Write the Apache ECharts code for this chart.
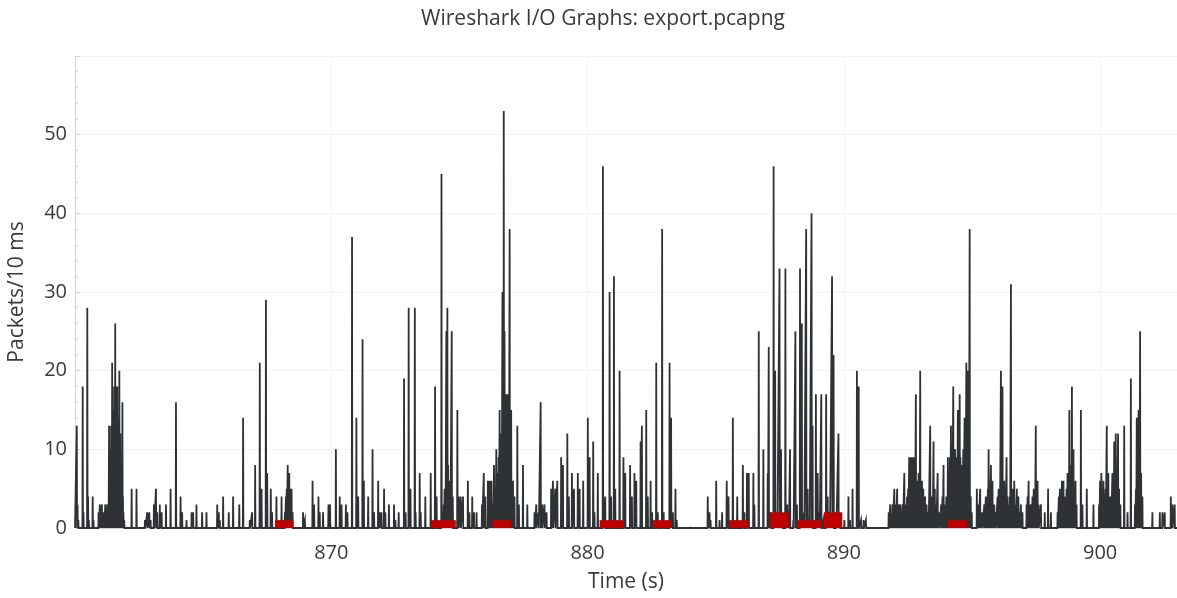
<!DOCTYPE html>
<html>
<head>
<meta charset="utf-8">
<title>Wireshark I/O Graphs: export.pcapng</title>
<script src="https://cdn.jsdelivr.net/npm/echarts@6/dist/echarts.min.js"></script>
<style>
  html, body { margin: 0; padding: 0; background: #ffffff; }
  #chart { width: 1177px; height: 598px; }
</style>
</head>
<body>
<div id="chart"></div>
<script>
// Packets per 10 ms interval: [time (s), packet count]; bins not listed are empty.
const ioSamples = [
  [860.07,13],[860.10,3],[860.13,1],[860.30,18],[860.33,2],[860.48,28],[860.51,4],[860.54,1],[860.69,4],[860.72,1],
  [860.92,2],[860.97,3],[861.00,2],[861.05,3],[861.10,2],[861.14,1],[861.18,3],[861.22,2],[861.26,3],[861.30,2],
  [861.33,13],[861.35,4],[861.37,10],[861.39,6],[861.41,13],[861.43,8],[861.45,21],[861.47,10],[861.49,15],[861.51,9],
  [861.53,18],[861.55,12],[861.57,26],[861.59,10],[861.61,18],[861.63,8],[861.65,18],[861.67,10],[861.69,14],[861.71,6],
  [861.73,20],[861.75,10],[861.77,12],[861.79,6],[861.81,8],[861.83,3],[861.85,16],[861.87,4],[861.89,2],[861.92,1],
  [862.21,5],[862.40,5],[862.73,1],[862.82,2],[862.90,2],[862.95,1],[863.08,3],[863.16,5],[863.21,2],[863.31,3],
  [863.38,2],[863.55,3],[863.73,5],[863.94,16],[864.12,4],[864.18,2],[864.35,1],[864.55,2],[864.61,2],[864.74,3],
  [864.96,2],[865.13,2],[865.55,3],[865.61,2],[865.65,1],[865.78,4],[866.00,2],[866.17,4],[866.41,3],[866.56,14],
  [866.82,1],[866.91,2],[867.03,8],[867.21,21],[867.28,5],[867.45,29],[867.50,7],[867.64,5],[867.69,2],[867.86,4],
  [868.06,4],[868.19,2],[868.23,4],[868.26,5],[868.30,8],[868.33,7],[868.36,7],[868.39,5],[868.42,3],[868.45,5],
  [868.49,2],[868.90,2],[868.97,1],[869.27,6],[869.33,3],[869.50,4],[869.55,2],[869.68,2],[869.89,3],[869.95,3],
  [870.18,10],[870.33,4],[870.40,3],[870.57,3],[870.63,2],[870.81,37],[870.98,14],[871.05,4],[871.22,24],[871.27,6],
  [871.44,4],[871.61,10],[871.67,2],[871.83,6],[871.89,2],[871.96,2],[872.06,5],[872.11,2],[872.25,3],[872.45,3],
  [872.50,1],[872.63,2],[872.84,19],[872.90,2],[873.02,28],[873.09,5],[873.26,28],[873.29,2],[873.45,7],[873.49,2],
  [873.67,4],[873.88,7],[874.05,18],[874.11,4],[874.30,45],[874.36,2],[874.39,3],[874.42,5],[874.45,4],[874.49,25],
  [874.53,28],[874.56,8],[874.60,6],[874.64,4],[874.70,25],[874.74,4],[874.92,15],[874.97,4],[875.05,4],[875.14,4],
  [875.33,6],[875.39,2],[875.50,4],[875.57,2],[875.67,2],[875.88,3],[875.95,7],[876.01,4],[876.11,6],[876.18,6],
  [876.25,6],[876.31,3],[876.35,8],[876.40,5],[876.44,10],[876.47,7],[876.50,4],[876.53,9],[876.57,15],[876.61,12],
  [876.64,10],[876.68,30],[876.71,20],[876.73,53],[876.76,25],[876.79,17],[876.81,12],[876.84,17],[876.87,10],[876.89,17],
  [876.92,12],[876.96,38],[876.99,10],[877.02,15],[877.05,5],[877.09,6],[877.15,4],[877.26,13],[877.32,3],[877.48,8],
  [877.65,3],[877.93,2],[878.00,3],[878.09,2],[878.17,16],[878.23,3],[878.32,3],[878.40,2],[878.58,5],[878.65,6],
  [878.74,5],[878.82,6],[878.97,9],[879.04,8],[879.21,12],[879.27,4],[879.39,7],[879.47,5],[879.62,7],[879.69,5],
  [879.83,6],[880.01,14],[880.08,9],[880.22,11],[880.27,2],[880.40,7],[880.60,46],[880.69,4],[880.86,30],[880.92,4],
  [881.03,32],[881.08,5],[881.25,20],[881.40,9],[881.47,7],[881.66,8],[881.73,4],[881.83,7],[881.90,6],[882.07,11],
  [882.12,13],[882.29,15],[882.35,4],[882.46,6],[882.52,2],[882.68,21],[882.74,2],[882.91,38],[882.97,2],[883.20,21],
  [883.26,14],[883.33,2],[883.43,5],[883.48,1],
  [884.69,4],[884.76,2],[884.80,1],[885.02,6],[885.15,1],[885.25,2],[885.43,6],[885.50,4],[885.67,14],[885.73,1],
  [885.84,4],[886.06,8],[886.12,2],[886.22,7],[886.29,7],[886.47,7],[886.51,3],[886.68,25],[886.86,10],[887.03,7],
  [887.07,23],[887.15,2],[887.26,46],[887.32,20],[887.40,2],[887.49,33],[887.55,10],[887.62,1],[887.72,33],[887.79,3],
  [887.85,2],[887.90,10],[888.03,1],[888.11,25],[888.17,3],[888.29,33],[888.36,26],[888.45,2],[888.53,38],[888.59,5],
  [888.66,1],[888.74,40],[888.78,13],[888.91,17],[888.98,7],[889.05,2],[889.12,17],[889.20,1],[889.31,17],[889.37,4],
  [889.45,2],[889.54,32],[889.60,22],[889.70,2],[889.79,12],[889.86,1],[890.02,1],[890.18,4],[890.24,1],[890.34,5],
  [890.51,20],[890.58,18],[890.67,1],[890.77,1],[890.86,1],
  [891.75,2],[891.81,3],[891.86,1],[891.90,3],[891.97,5],[892.03,3],[892.08,5],[892.12,3],[892.17,3],[892.21,3],
  [892.24,1],[892.30,3],[892.36,7],[892.42,3],[892.47,4],[892.51,5],[892.55,9],[892.58,4],[892.62,9],[892.65,5],
  [892.68,9],[892.71,4],[892.74,9],[892.77,4],[892.81,17],[892.84,5],[892.88,6],[892.92,7],[892.95,4],[892.98,20],
  [893.02,4],[893.05,6],[893.10,5],[893.17,4],[893.23,3],[893.30,2],[893.37,13],[893.42,4],[893.46,3],[893.50,11],
  [893.55,5],[893.60,3],[893.66,7],[893.72,2],[893.80,3],[893.85,4],[893.89,8],[893.93,3],[893.96,3],[894.00,4],
  [894.03,3],[894.06,9],[894.10,5],[894.14,9],[894.18,13],[894.22,7],[894.27,18],[894.31,8],[894.34,10],[894.37,6],
  [894.41,9],[894.45,15],[894.48,8],[894.52,17],[894.55,9],[894.58,5],[894.62,8],[894.66,10],[894.71,14],[894.74,12],
  [894.78,21],[894.83,20],[894.87,16],[894.91,38],[894.95,4],[894.99,2],
  [895.19,5],[895.25,3],[895.32,5],[895.40,2],[895.48,3],[895.54,4],[895.58,3],[895.62,5],[895.65,10],[895.69,4],
  [895.74,8],[895.77,4],[895.80,6],[895.84,3],[895.87,3],[895.92,2],[896.00,4],[896.04,5],[896.08,3],[896.13,20],
  [896.16,6],[896.19,18],[896.23,5],[896.26,6],[896.30,4],[896.35,9],[896.39,4],[896.44,3],[896.48,4],[896.52,31],
  [896.55,4],[896.58,5],[896.62,3],[896.65,6],[896.70,3],[896.75,5],[896.81,4],[896.86,2],[896.91,3],[896.97,2],
  [897.13,3],[897.17,4],[897.21,6],[897.27,3],[897.32,3],[897.36,4],[897.41,5],[897.45,4],[897.49,13],[897.52,5],
  [897.56,6],[897.60,3],[897.69,3],[897.84,2],[897.97,5],[898.08,2],[898.34,2],[898.39,4],[898.43,5],[898.47,4],
  [898.51,6],[898.54,3],[898.57,6],[898.61,4],[898.65,3],[898.69,5],[898.73,7],[898.77,5],[898.80,15],[898.84,8],
  [898.87,6],[898.90,18],[898.93,7],[898.96,10],[899.00,4],[899.04,6],[899.08,3],[899.25,15],[899.31,3],[899.48,5],
  [899.74,3],[899.96,3],[900.00,6],[900.05,7],[900.09,4],[900.13,6],[900.17,3],[900.21,5],[900.26,13],[900.29,6],
  [900.32,7],[900.37,4],[900.42,4],[900.48,7],[900.52,4],[900.55,11],[900.58,5],[900.61,12],[900.65,5],[900.70,12],
  [900.74,5],[900.79,3],[900.94,13],[901.07,2],[901.20,19],[901.36,3],[901.40,5],[901.43,14],[901.47,6],[901.50,15],
  [901.53,8],[901.56,25],[901.60,7],[901.65,4],[902.04,2],[902.33,2],[902.43,2],[902.52,2],[902.76,4],[902.82,3],
  [902.91,3]
];

// Second graph (red bars): interval start, interval end and count.
const errStart = [867.80, 873.88, 876.29, 880.47, 882.55, 885.52, 887.13, 888.19, 889.22, 894.07];
const errEnd   = [868.52, 874.86, 877.02, 881.42, 883.26, 886.28, 887.85, 889.11, 889.94, 894.81];
const errCount = [1, 1, 1, 1, 1, 1, 2, 1, 2, 1];

const timeStart = 860;
const timeEnd = 903;
const yTicks = [0, 10, 20, 30, 40, 50];

// Turn the sparse sample list into a 10 ms line trace: empty bins next to a
// sample are emitted as zeros so every burst rises from and falls back to 0.
function buildTrace(samples) {
  const sorted = samples.slice().sort((a, b) => a[0] - b[0]);
  const bins = sorted.map(s => Math.round(s[0] * 100));
  const pts = [[timeStart, 0]];
  for (let i = 0; i < sorted.length; i++) {
    const b = bins[i];
    const prev = i > 0 ? bins[i - 1] : -Infinity;
    const next = i < sorted.length - 1 ? bins[i + 1] : Infinity;
    if (b - prev > 1 && (pts[pts.length - 1][0] * 100) < b - 1 - 0.5) pts.push([(b - 1) / 100, 0]);
    pts.push([b / 100, sorted[i][1]]);
    if (next - b > 1) pts.push([(b + 1) / 100, 0]);
  }
  pts.push([timeEnd, 0]);
  return pts;
}

const traceData = buildTrace(ioSamples);
const errData = errStart.map((s, i) => [s, errEnd[i], errCount[i]]);

const fontFamily = '"Open Sans", "Noto Sans", "DejaVu Sans", sans-serif';
const axisGray = '#d4d4d4';
const textColor = '#3a3a3a';

const chart = echarts.init(document.getElementById('chart'), null, { renderer: 'canvas' });

chart.setOption({
  backgroundColor: '#ffffff',
  animation: false,
  title: {
    text: 'Wireshark I/O Graphs: export.pcapng',
    left: 598,
    textAlign: 'center',
    top: 4,
    textStyle: { fontFamily, fontSize: 21, fontWeight: 'normal', color: textColor }
  },
  grid: { left: 75, right: 0, top: 56, bottom: 70, containLabel: false, outerBoundsMode: 'none' },
  xAxis: {
    type: 'value',
    min: timeStart,
    max: timeEnd,
    interval: 10,
    offset: 11,
    name: 'Time (s)',
    nameLocation: 'middle',
    nameGap: 33,
    nameTextStyle: { fontFamily, fontSize: 21, color: textColor },
    axisLine: { show: true, lineStyle: { color: axisGray, width: 1 } },
    axisTick: { show: true, inside: true, length: 5, lineStyle: { color: axisGray } },
    minorTick: { show: true, splitNumber: 5, length: 3, lineStyle: { color: axisGray } },
    axisLabel: {
      fontFamily, fontSize: 20, color: textColor, margin: 4,
      showMinLabel: false, showMaxLabel: false
    },
    splitLine: { show: true, lineStyle: { color: '#f3f3f3', width: 1 } }
  },
  yAxis: {
    type: 'value',
    min: 0,
    max: 60,
    interval: 10,
    name: 'Packets/10 ms',
    nameLocation: 'middle',
    nameGap: 47,
    nameTextStyle: { fontFamily, fontSize: 21, color: textColor },
    axisLine: { show: true, lineStyle: { color: axisGray, width: 1 } },
    axisTick: { show: true, inside: true, length: 5, lineStyle: { color: axisGray } },
    minorTick: { show: true, splitNumber: 5, length: 3, lineStyle: { color: axisGray } },
    axisLabel: {
      fontFamily, fontSize: 20, color: textColor, margin: 8,
      formatter: v => (yTicks.indexOf(v) >= 0 ? String(v) : '')
    },
    splitLine: { show: true, lineStyle: { color: '#f3f3f3', width: 1 } }
  },
  series: [
    {
      name: 'Packets',
      type: 'line',
      data: traceData,
      showSymbol: false,
      symbol: 'none',
      lineStyle: { color: '#2e3234', width: 1.8, join: 'miter' },
      z: 2
    },
    {
      name: 'Errors',
      type: 'custom',
      data: errData,
      encode: { x: [0, 1], y: 2 },
      renderItem: function (params, api) {
        const topLeft = api.coord([api.value(0), api.value(2)]);
        const bottomRight = api.coord([api.value(1), 0]);
        return {
          type: 'rect',
          shape: {
            x: topLeft[0],
            y: topLeft[1],
            width: bottomRight[0] - topLeft[0],
            height: bottomRight[1] - topLeft[1]
          },
          style: { fill: '#c00000' }
        };
      },
      z: 3
    }
  ]
});
</script>
</body>
</html>
